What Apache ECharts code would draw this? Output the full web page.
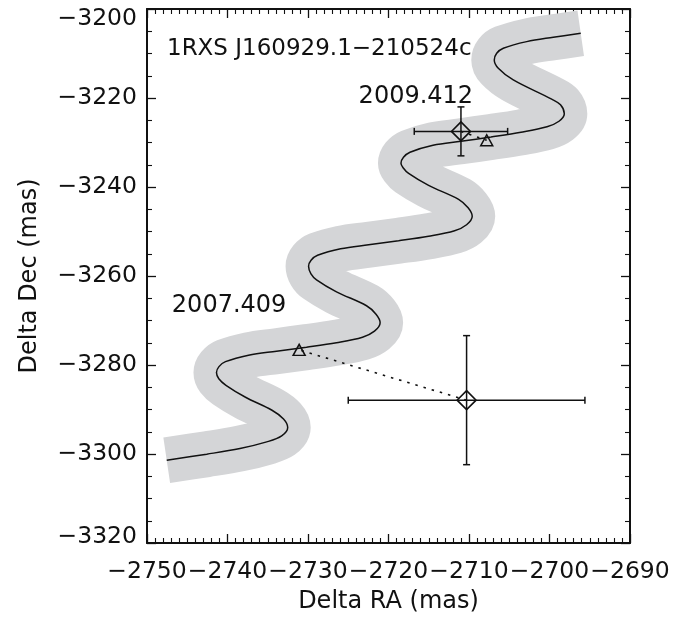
<!DOCTYPE html>
<html>
<head>
<meta charset="utf-8">
<script src="https://cdn.jsdelivr.net/npm/echarts@6/dist/echarts.min.js"></script>
<style>
  html, body { margin: 0; padding: 0; background: #fff; }
  #chart { width: 691px; height: 619px; }
</style>
</head>
<body>
<div id="chart"></div>
<script>
// ---- data ----
const xTicks = [-2750, -2740, -2730, -2720, -2710, -2700, -2690];
const yTicks = [-3320, -3300, -3280, -3260, -3240, -3220, -3200];

// background (parallax + proper motion) track, Delta RA / Delta Dec in mas
const trackRA = [
  -2747.55, -2742.58, -2738.45, -2735.13, -2733.27, -2732.52, -2733.04, -2734.47,
  -2737.76, -2740.19, -2741.08, -2741.37, -2741.06, -2740.25, -2737.39, -2733.91,
  -2730.19, -2726.46, -2723.23, -2721.74, -2721.04, -2721.55, -2722.73, -2726.46,
  -2728.94, -2729.63, -2729.93, -2729.62, -2728.81, -2725.95, -2722.47, -2718.75,
  -2715.02, -2711.79, -2710.30, -2709.60, -2710.11, -2711.29, -2715.02, -2717.50,
  -2718.19, -2718.45, -2718.14, -2717.33, -2714.47, -2710.99, -2707.27, -2703.54,
  -2700.31, -2698.82, -2698.16, -2698.63, -2699.73, -2704.50, -2706.36, -2706.86,
  -2706.56, -2705.74, -2702.83, -2699.53, -2696.12
];
const trackDec = [
  -3301.39, -3300.04, -3298.77, -3297.28, -3295.93, -3294.05, -3292.14, -3290.17,
  -3287.25, -3284.56, -3283.10, -3281.71, -3280.37, -3279.25, -3277.79, -3276.89,
  -3275.99, -3274.98, -3273.75, -3272.40, -3270.50, -3268.59, -3266.69, -3263.55,
  -3260.85, -3259.51, -3257.80, -3256.46, -3255.34, -3253.88, -3252.98, -3252.08,
  -3251.07, -3249.84, -3248.49, -3246.59, -3244.68, -3242.77, -3239.63, -3236.94,
  -3235.66, -3234.65, -3233.31, -3232.19, -3230.62, -3229.72, -3228.76, -3227.70,
  -3226.47, -3225.23, -3223.55, -3221.53, -3220.25, -3215.93, -3213.30, -3211.44,
  -3209.94, -3208.82, -3207.33, -3206.35, -3205.45
];

// observed positions (diamonds) with errors
const epochs    = ['2009.412', '2007.409'];
const obsRA     = [-2711.0, -2710.3];
const obsDec    = [-3227.5, -3287.9];
const obsErrRA  = [5.8, 14.7];
const obsErrDec = [5.5, 14.5];
// expected background positions (triangles)
const bgRA      = [-2707.8, -2731.1];
const bgDec     = [-3229.5, -3276.6];
// epoch label anchor positions
const labelRA   = [-2716.6, -2739.8];
const labelDec  = [-3219.7, -3266.6];

const titleText = '1RXS J160929.1\u2212210524c';

// ---- chart ----
const FONT = 'DejaVu Sans';
const INK = '#111111';
const minus = v => String(v).replace('-', '\u2212');
const yMin = yTicks[0], yMax = yTicks[yTicks.length - 1];
const yLabel = v => {
  if (v === yMax) return '{top|' + minus(v) + '}';
  if (v === yMin) return '{bot|' + minus(v) + '}';
  return minus(v);
};

const track = trackRA.map((x, i) => [x, trackDec[i]]);

const axisCommon = {
  type: 'value',
  axisLine: { show: true, onZero: false, lineStyle: { color: INK, width: 2 } },
  axisTick: { show: true, inside: true, length: 9, lineStyle: { color: INK, width: 1.3 } },
  minorTick: { show: true, length: 5, lineStyle: { color: INK, width: 1.1 } },
  splitLine: { show: false },
  minorSplitLine: { show: false }
};

const chart = echarts.init(document.getElementById('chart'), null, { renderer: 'canvas' });

const dottedSeries = epochs.map((e, i) => ({
  type: 'line',
  name: 'link' + i,
  data: [[obsRA[i], obsDec[i]], [bgRA[i], bgDec[i]]],
  showSymbol: false,
  symbol: 'none',
  lineStyle: { color: INK, width: 1.6, type: [2.5, 6] },
  z: 3,
  silent: true
}));

chart.setOption({
  animation: false,
  backgroundColor: '#fff',
  title: {
    text: titleText,
    left: 162, top: 33,
    textStyle: { fontFamily: FONT, fontSize: 23, fontWeight: 'normal', color: INK }
  },
  grid: { left: 147, top: 9, width: 483, height: 535, containLabel: false },
  xAxis: [
    Object.assign({}, axisCommon, {
      position: 'bottom', min: xTicks[0], max: xTicks[xTicks.length - 1], interval: 10,
      minorTick: Object.assign({}, axisCommon.minorTick, { splitNumber: 10 }),
      axisLabel: { fontFamily: FONT, fontSize: 23.5, color: INK, margin: 17, formatter: minus,
                   showMinLabel: true, showMaxLabel: true, hideOverlap: false },
      name: 'Delta RA (mas)', nameLocation: 'middle', nameGap: 47,
      nameTextStyle: { fontFamily: FONT, fontSize: 24, color: INK }
    }),
    Object.assign({}, axisCommon, {
      position: 'top', min: xTicks[0], max: xTicks[xTicks.length - 1], interval: 10,
      minorTick: Object.assign({}, axisCommon.minorTick, { splitNumber: 10 }),
      axisLabel: { show: false }
    })
  ],
  yAxis: [
    Object.assign({}, axisCommon, {
      position: 'left', min: yMin, max: yMax, interval: 20,
      minorTick: Object.assign({}, axisCommon.minorTick, { splitNumber: 4 }),
      axisLabel: {
        fontFamily: FONT, fontSize: 23.5, color: INK, margin: 10, formatter: yLabel,
        showMinLabel: true, showMaxLabel: true,
        rich: {
          top: { fontFamily: FONT, fontSize: 23.5, color: INK, padding: [20, 0, 0, 0] },
          bot: { fontFamily: FONT, fontSize: 23.5, color: INK, padding: [0, 0, 13, 0] }
        }
      },
      name: 'Delta Dec (mas)', nameLocation: 'middle', nameGap: 105,
      nameTextStyle: { fontFamily: FONT, fontSize: 24, color: INK }
    }),
    Object.assign({}, axisCommon, {
      position: 'right', min: yMin, max: yMax, interval: 20,
      minorTick: Object.assign({}, axisCommon.minorTick, { splitNumber: 4 }),
      axisLabel: { show: false }
    })
  ],
  series: [
    {
      type: 'line', name: 'band', data: track, smooth: 0.35, showSymbol: false, symbol: 'none',
      lineStyle: { color: '#d4d5d7', width: 46, cap: 'butt', join: 'round' },
      z: 1, silent: true
    },
    {
      type: 'line', name: 'track', data: track, smooth: 0.35, showSymbol: false, symbol: 'none',
      lineStyle: { color: INK, width: 1.5 },
      z: 2, silent: true
    },
    ...dottedSeries,
    {
      type: 'custom', name: 'errors', z: 4, silent: true,
      data: obsRA.map((x, i) => [x, obsDec[i], obsErrRA[i], obsErrDec[i]]),
      renderItem: function (params, api) {
        const x = api.value(0), y = api.value(1), ex = api.value(2), ey = api.value(3);
        const l = api.coord([x - ex, y]), r = api.coord([x + ex, y]);
        const t = api.coord([x, y + ey]), b = api.coord([x, y - ey]);
        const cap = 3.5;
        const style = { stroke: INK, lineWidth: 1.5, fill: null };
        const ln = (x1, y1, x2, y2) => ({ type: 'line', shape: { x1, y1, x2, y2 }, style });
        return {
          type: 'group',
          children: [
            ln(l[0], l[1], r[0], r[1]),
            ln(l[0], l[1] - cap, l[0], l[1] + cap),
            ln(r[0], r[1] - cap, r[0], r[1] + cap),
            ln(t[0], t[1], b[0], b[1]),
            ln(t[0] - cap, t[1], t[0] + cap, t[1]),
            ln(b[0] - cap, b[1], b[0] + cap, b[1])
          ]
        };
      }
    },
    {
      type: 'scatter', name: 'observed', z: 5, silent: true,
      data: obsRA.map((x, i) => [x, obsDec[i]]),
      symbol: 'diamond', symbolSize: [19, 19],
      itemStyle: { color: 'rgba(0,0,0,0)', borderColor: INK, borderWidth: 1.6, opacity: 1 }
    },
    {
      type: 'scatter', name: 'background', z: 5, silent: true,
      data: bgRA.map((x, i) => [x, bgDec[i]]),
      symbol: 'triangle', symbolSize: [12, 11],
      itemStyle: { color: 'rgba(0,0,0,0)', borderColor: INK, borderWidth: 1.5, opacity: 1 }
    },
    {
      type: 'custom', name: 'epochs', z: 6, silent: true,
      data: labelRA.map((x, i) => [x, labelDec[i], i]),
      renderItem: function (params, api) {
        const p = api.coord([api.value(0), api.value(1)]);
        return {
          type: 'text',
          x: p[0], y: p[1],
          style: {
            text: epochs[api.value(2)],
            fontFamily: FONT, fontSize: 24, fill: INK,
            align: 'center', verticalAlign: 'middle'
          }
        };
      }
    }
  ]
});
</script>
</body>
</html>
